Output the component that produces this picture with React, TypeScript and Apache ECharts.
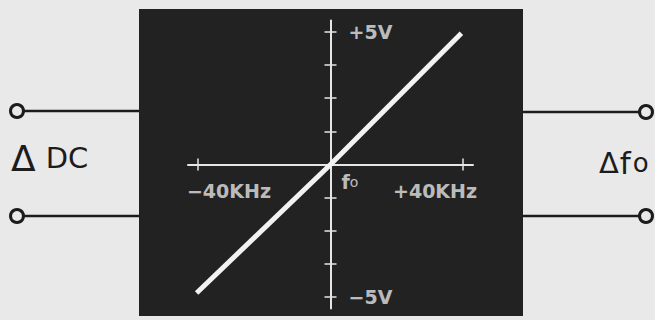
import React, { useEffect, useRef } from "react";
import * as echarts from "echarts";

// Axis extents (frequency offset in KHz, voltage in V)
const xRange = [-43, 43];
const yRange = [-5.43, 5.43];
// Ticks and labels
const xTickValues = [-40, 40];
const xTickLabels = ["−40KHz", "+40KHz"];
const yTickValues = [-5, -3.75, -2.5, -1.25, 1.25, 2.5, 3.75, 5];
const yLabelValues = [5, -5];
const yTickLabels = ["+5V", "−5V"];
const centerLabel = "fo";
// Transfer characteristic (ΔDC vs Δf)
const lineX = [-40.4, 0, 39.5];
const lineY = [-4.85, 0, 4.95];

const BG = "#e9e9e9";
const DARK = "#222222";
const INK = "#1c1c1c";
const WHITE = "#e6e6e6";
const FONT = "DejaVu Sans";

export default function App() {
  const ref = useRef<HTMLDivElement>(null);
  useEffect(() => {
    if (!ref.current) return;
    const chart = echarts.init(ref.current, null, { renderer: "svg" });
    const tickStyle = { color: WHITE, width: 1.5 };
    const lineStyle = { color: WHITE, width: 2 };
    const labelFont = { fontFamily: FONT, fontSize: 19, fontWeight: "bold", color: WHITE };
    const axisBase = (extra: any) => ({
      type: "value",
      splitLine: { show: false },
      axisLabel: { show: false },
      ...extra,
    });
    const option: any = {
      animation: false,
      backgroundColor: BG,
      grid: { left: 188, top: 20.6, width: 285, height: 287.8, containLabel: false, outerBoundsMode: "none" },
      xAxis: [
        axisBase({
          position: "bottom", min: xRange[0], max: xRange[1],
          axisLine: { show: true, onZero: true, lineStyle },
          axisTick: { show: true, length: 6, customValues: xTickValues, lineStyle: tickStyle },
        }),
        axisBase({
          position: "top", min: xRange[0], max: xRange[1],
          axisLine: { show: false, onZero: true },
          axisTick: { show: true, length: 6, customValues: xTickValues, lineStyle: tickStyle },
        }),
      ],
      yAxis: [
        axisBase({
          position: "left", min: yRange[0], max: yRange[1],
          axisLine: { show: true, onZero: true, lineStyle },
          axisTick: { show: true, length: 6, customValues: yTickValues, lineStyle: tickStyle },
        }),
        axisBase({
          position: "right", min: yRange[0], max: yRange[1],
          axisLine: { show: false, onZero: true },
          axisTick: { show: true, length: 6, customValues: yTickValues, lineStyle: tickStyle },
        }),
      ],
      series: [
        {
          type: "line",
          xAxisIndex: 0, yAxisIndex: 0,
          data: lineX.map((x, i) => [x, lineY[i]]),
          showSymbol: false,
          symbol: "none",
          clip: false,
          lineStyle: { color: "#f2f2f2", width: 5, cap: "butt" },
          z: 5,
        },
        {
          // axis annotations placed at data coordinates
          type: "scatter",
          xAxisIndex: 0, yAxisIndex: 0,
          symbolSize: 0,
          silent: true,
          z: 6,
          data: [
            ...xTickValues.map((v, i) => ({
              value: [v, 0],
              label: {
                show: true, position: "inside", formatter: xTickLabels[i], ...labelFont,
                align: v < 0 ? "left" : "right", verticalAlign: "middle",
                offset: [v < 0 ? -11 : 14, 26],
              },
            })),
            ...yLabelValues.map((v, i) => ({
              value: [0, v],
              label: {
                show: true, position: "inside", formatter: yTickLabels[i], ...labelFont,
                align: "left", verticalAlign: "middle", offset: [18, 0],
              },
            })),
            {
              value: [0, 0],
              label: {
                show: true, position: "inside",
                formatter: `{f|${centerLabel[0]}}{o|${centerLabel[1]}}`,
                align: "left", verticalAlign: "middle", offset: [11, 17],
                rich: {
                  f: { fontFamily: FONT, fontSize: 19, fontWeight: "bold", color: WHITE },
                  o: { fontFamily: FONT, fontSize: 14, color: WHITE },
                },
              },
            },
          ],
        },
      ],
      graphic: [
        { type: "rect", z: -10, shape: { x: 139, y: 9, width: 384, height: 307 }, style: { fill: DARK } },
        // input terminals
        { type: "line", shape: { x1: 24, y1: 111, x2: 139, y2: 111 }, style: { stroke: INK, lineWidth: 2.5 } },
        { type: "line", shape: { x1: 24, y1: 216, x2: 139, y2: 216 }, style: { stroke: INK, lineWidth: 2.5 } },
        { type: "circle", shape: { cx: 17, cy: 111, r: 6.5 }, style: { fill: BG, stroke: INK, lineWidth: 3 } },
        { type: "circle", shape: { cx: 17, cy: 216, r: 6.5 }, style: { fill: BG, stroke: INK, lineWidth: 3 } },
        // output terminals
        { type: "line", shape: { x1: 523, y1: 112, x2: 639, y2: 112 }, style: { stroke: INK, lineWidth: 2.5 } },
        { type: "line", shape: { x1: 523, y1: 216, x2: 639, y2: 216 }, style: { stroke: INK, lineWidth: 2.5 } },
        { type: "circle", shape: { cx: 646, cy: 112, r: 6.5 }, style: { fill: BG, stroke: INK, lineWidth: 3 } },
        { type: "circle", shape: { cx: 646, cy: 216, r: 6.5 }, style: { fill: BG, stroke: INK, lineWidth: 3 } },
        {
          type: "text", x: 11, y: 176,
          style: {
            text: "{t|Δ}{d|DC}", verticalAlign: "bottom", align: "left",
            rich: {
              t: { fontFamily: FONT, fontSize: 36, fill: INK, padding: [0, 10, 0, 0] },
              d: { fontFamily: FONT, fontSize: 29, fill: INK },
            },
          },
        },
        {
          type: "text", x: 599, y: 178,
          style: {
            text: "{t|Δ}{f|f}{o|o}", verticalAlign: "bottom", align: "left",
            rich: {
              t: { fontFamily: FONT, fontSize: 29, fill: INK, padding: [0, 1, 0, 0] },
              f: { fontFamily: FONT, fontSize: 31, fill: INK, padding: [0, 2, 0, 0] },
              o: { fontFamily: FONT, fontSize: 26, fill: INK },
            },
          },
        },
      ],
    };
    chart.setOption(option);
    return () => chart.dispose();
  }, []);
  return (
    <div
      ref={ref}
      style={{ position: "fixed", left: 0, top: 0, width: 655, height: 320 }}
    />
  );
}
